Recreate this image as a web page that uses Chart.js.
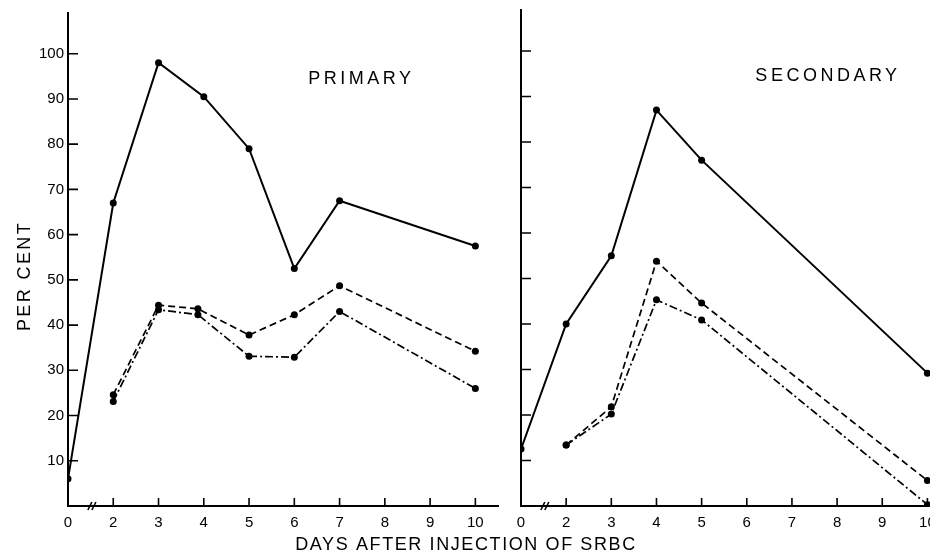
<!DOCTYPE html>
<html>
<head>
<meta charset="utf-8">
<script src="https://cdn.jsdelivr.net/npm/chart.js@4/dist/chart.umd.min.js"></script>
<style>
html, body { margin: 0; padding: 0; background: #fff; overflow: hidden; width: 930px; height: 560px; }
canvas { position: absolute; top: 0; }
#primary { left: 0; }
#secondary { left: 453px; }
</style>
</head>
<body>
<canvas id="primary" width="930" height="560"></canvas>
<canvas id="secondary" width="510" height="560"></canvas>
<script>
// x axis has a break between day 0 and day 2
const dayTicks = [0, 2, 3, 4, 5, 6, 7, 8, 9, 10];
const yTicks = [10, 20, 30, 40, 50, 60, 70, 80, 90, 100];

const primaryDays = [0, 2, 3, 4, 5, 6, 7, 10];
const primarySolid = [6, 67, 98, 90.5, 79, 52.5, 67.5, 57.5];
const primaryLowDays = [2, 3, 3.87, 5, 6, 7, 10];
const primaryDashed = [24.6, 44.4, 43.6, 37.8, 42.3, 48.7, 34.2];
const primaryDashDot = [23.1, 43.4, 42.3, 33.1, 32.9, 43, 26];

const secondaryDays = [0, 2, 3, 4, 5, 10];
const secondarySolid = [12.5, 40, 55, 87, 76, 29.2];
const secondaryLowDays = [2, 3, 4, 5, 10];
const secondaryDashed = [13.4, 21.8, 53.8, 44.6, 5.6];
const secondaryDashDot = [13.4, 20.2, 45.3, 40.9, 0.3];

const FONT = '"Liberation Sans", Arial, sans-serif';

function pos (day) {
	return day < 1 ? day : day - 1;
}

function series (days, values, dash) {
	return {
		data: days.map((d, i) => ({ x: pos(d), y: values[i] })),
		borderColor: '#000',
		borderWidth: dash.length ? 1.7 : 2,
		borderDash: dash,
		pointRadius: 3.5,
		pointBackgroundColor: '#000',
		pointBorderWidth: 0,
		tension: 0
	};
}

const axisMarks = {
	id: 'axisMarks',
	afterDraw (chart, args, opts) {
		const { ctx, chartArea, scales: { x, y } } = chart;
		ctx.save();
		ctx.strokeStyle = '#000';
		ctx.lineWidth = 1.6;
		ctx.beginPath();
		y.ticks.forEach(t => {
			const py = y.getPixelForValue(t.value);
			ctx.moveTo(chartArea.left, py);
			ctx.lineTo(chartArea.left + 10, py);
		});
		x.ticks.forEach(t => {
			if (t.value === 0) return;
			const px = x.getPixelForValue(t.value);
			ctx.moveTo(px, chartArea.bottom);
			ctx.lineTo(px, chartArea.bottom - 8);
		});
		// the // break mark
		const bx = x.getPixelForValue(0.55), by = chartArea.bottom;
		ctx.moveTo(bx - 5, by + 4); ctx.lineTo(bx - 1, by - 4);
		ctx.moveTo(bx - 1, by + 4); ctx.lineTo(bx + 3, by - 4);
		ctx.stroke();

		ctx.fillStyle = '#000';
		ctx.font = '18px ' + FONT;
		ctx.letterSpacing = '3.5px';
		ctx.textBaseline = 'middle';
		ctx.textAlign = 'left';
		ctx.fillText(opts.label, x.getPixelForValue(opts.labelX), y.getPixelForValue(opts.labelY));

		if (opts.axisTitles) {
			ctx.letterSpacing = '1.6px';
			ctx.textAlign = 'center';
			ctx.fillText('DAYS AFTER INJECTION OF SRBC', 466, 545);
			ctx.letterSpacing = '2.4px';
			ctx.translate(25, 276);
			ctx.rotate(-Math.PI / 2);
			ctx.fillText('PER CENT', 0, 0);
		}
		ctx.restore();
	}
};

function options (showYLabels, rightPad, marks) {
	return {
		responsive: false,
		animation: false,
		layout: { padding: { left: 0, top: 10, right: rightPad, bottom: 0 } },
		plugins: { legend: { display: false }, tooltip: { enabled: false }, axisMarks: marks },
		scales: {
			x: {
				type: 'linear',
				min: 0,
				max: 9.5,
				afterBuildTicks: s => { s.ticks = dayTicks.map((d, i) => ({ value: i })); },
				afterFit: s => { s.height = 54; },
				grid: { display: false, drawTicks: false },
				border: { display: true, color: '#000', width: 2 },
				ticks: {
					autoSkip: false,
					maxRotation: 0,
					padding: 8,
					color: '#000',
					font: { family: FONT, size: 15 },
					callback: (v, i) => String(dayTicks[i])
				}
			},
			y: {
				min: 0,
				max: 109,
				afterBuildTicks: s => { s.ticks = yTicks.map(v => ({ value: v })); },
				afterFit: s => { s.width = 68; },
				grid: { display: false, drawTicks: false },
				border: { display: true, color: '#000', width: 2 },
				ticks: {
					display: showYLabels,
					padding: 4,
					color: '#000',
					font: { family: FONT, size: 15 }
				}
			}
		}
	};
}

new Chart(document.getElementById('primary'), {
	type: 'line',
	data: {
		datasets: [
			series(primaryDays, primarySolid, []),
			series(primaryLowDays, primaryDashed, [7, 4]),
			series(primaryLowDays, primaryDashDot, [8, 3, 2, 3])
		]
	},
	options: options(true, 432, { label: 'PRIMARY', labelX: 5.31, labelY: 94.5, axisTitles: true }),
	plugins: [axisMarks]
});

new Chart(document.getElementById('secondary'), {
	type: 'line',
	data: {
		datasets: [
			series(secondaryDays, secondarySolid, []),
			series(secondaryLowDays, secondaryDashed, [7, 4]),
			series(secondaryLowDays, secondaryDashDot, [8, 3, 2, 3])
		]
	},
	options: options(false, 13, { label: 'SECONDARY', labelX: 5.19, labelY: 94.5, axisTitles: false }),
	plugins: [axisMarks]
});
</script>
</body>
</html>
